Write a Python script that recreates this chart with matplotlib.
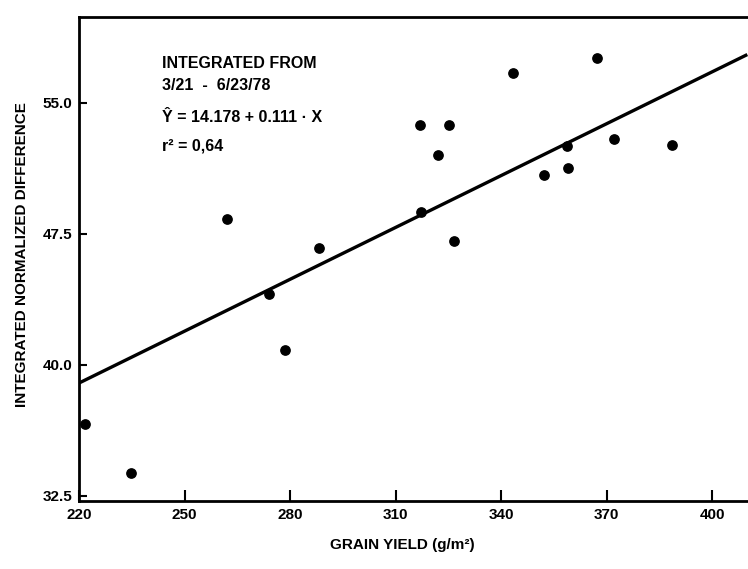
import matplotlib
matplotlib.use("Agg")
import matplotlib.pyplot as plt
from matplotlib import font_manager as fm

# data
grain_yield = [221.6, 234.9, 262.2, 273.9, 278.5, 288.2, 317.0, 317.1, 322.0,
               325.3, 326.6, 343.5, 352.2, 358.6, 359.0, 367.3, 372.2, 388.7]
int_nd = [36.63, 33.81, 48.32, 44.07, 40.82, 46.69, 53.70, 48.73, 52.00,
          53.72, 47.10, 56.72, 50.85, 52.53, 51.27, 57.54, 52.92, 52.57]

# regression line as drawn
fit_x = [220, 410]
fit_y = [38.95, 57.75]

x_ticks = [220, 250, 280, 310, 340, 370, 400]
y_ticks = [32.5, 40.0, 47.5, 55.0]
y_tick_labels = ["32.5", "40.0", "47.5", "55.0"]

# narrow bold sans if there is one, otherwise Liberation Sans
names = {f.name for f in fm.fontManager.ttflist}
if "Liberation Sans Narrow" in names:
    font = ["Liberation Sans Narrow", "DejaVu Sans"]
else:
    font = ["Liberation Sans", "DejaVu Sans"]
plt.rcParams["font.family"] = font
plt.rcParams["font.weight"] = "bold"

W, H = 748, 569
fig = plt.figure(figsize=(W / 100, H / 100), dpi=100)
ax = fig.add_axes([79 / W, 1 - 501 / H, 669 / W, 484 / H])

ax.plot(fit_x, fit_y, color="black", lw=2.4, solid_capstyle="butt")
ax.scatter(grain_yield, int_nd, s=45, color="black", zorder=3)

ax.set_xlim(220, 410.2)
ax.set_ylim(32.2, 59.9)
ax.set_xticks(x_ticks)
ax.set_yticks(y_ticks)
ax.set_yticklabels(y_tick_labels)
ax.tick_params(axis="x", direction="in", length=8, width=1.5, pad=5, labelsize=11)
ax.tick_params(axis="y", direction="in", length=6, width=1.5, pad=5, labelsize=11)

for side in ["left", "bottom", "top"]:
    ax.spines[side].set_linewidth(2)
ax.spines["right"].set_visible(False)

ax.set_xlabel("GRAIN YIELD (g/m²)", fontsize=11, fontweight="bold")
ax.set_ylabel("INTEGRATED NORMALIZED DIFFERENCE", fontsize=11, fontweight="bold")
ax.xaxis.set_label_coords(0.484, -0.091)
ax.yaxis.set_label_coords(-0.085, 0.51)
ax.xaxis.label.set_va("center")
ax.yaxis.label.set_va("center")

txt = dict(transform=ax.transAxes, fontsize=11.5, fontweight="bold", va="baseline", ha="left")
ax.text(0.124, 0.895, "INTEGRATED FROM", **txt)
ax.text(0.124, 0.849, "3/21  -  6/23/78", **txt)
ax.text(0.124, 0.783, "Ŷ = 14.178 + 0.111 · X", **txt)
ax.text(0.124, 0.725, "r² = 0,64", **txt)

fig.savefig("out.png", dpi=100)
